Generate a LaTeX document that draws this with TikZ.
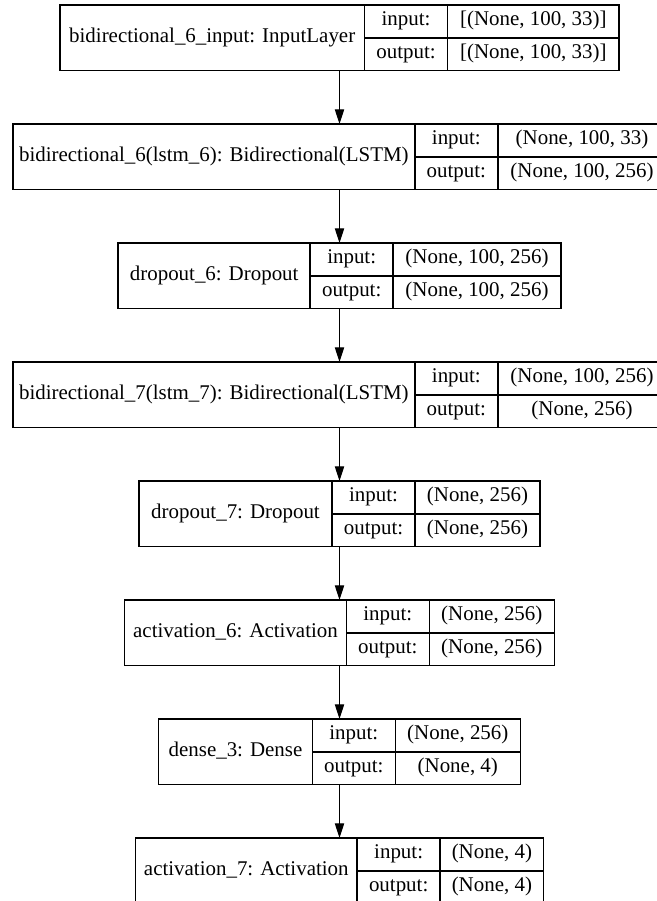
\documentclass[tikz,border=0pt]{standalone}
\usepackage{fontspec}
\setmainfont{Liberation Serif}
\usetikzlibrary{arrows.meta}

\tikzset{
  rec/.style={draw, line width=1.1pt, minimum height=49.3pt, inner sep=0pt, outer sep=0pt},
  labcell/.style={draw, line width=1.1pt, minimum height=49.3pt, inner sep=0pt, outer sep=0pt,
    text height=0.85em, text depth=0.2em, anchor=west},
  keycell/.style={draw, line width=1.1pt, minimum height=24.65pt, minimum width=62.25pt, inner sep=0pt,
    outer sep=0pt, text height=0.85em, text depth=0.2em, anchor=north west},
  valcell/.style={keycell},
  flow/.style={-{Triangle[length=11pt,width=7pt]}, line width=0.8pt}
}

\begin{document}
\begin{tikzpicture}[x=0.75pt,y=-0.75pt,font=\fontsize{15.7}{18}\selectfont]
\useasboundingbox (0,0) rectangle (657,901);
\clip (0,0) rectangle (657,901);
\foreach \n/\y/\lw/\vw/\lab/\vin/\vout in {
  1/37.8/228.5/128.7/{bidirectional\_6\_input: InputLayer}/{[(None, 100, 33)]}/{[(None, 100, 33)]},
  2/156.8/301.5/126.2/{bidirectional\_6(lstm\_6): Bidirectional(LSTM)}/{(None, 100, 33)}/{(None, 100, 256)},
  3/275.8/144/125.7/{dropout\_6: Dropout}/{(None, 100, 256)}/{(None, 100, 256)},
  4/394.8/301.5/126.2/{bidirectional\_7(lstm\_7): Bidirectional(LSTM)}/{(None, 100, 256)}/{(None, 256)},
  5/513.8/144.75/93.75/{dropout\_7: Dropout}/{(None, 256)}/{(None, 256)},
  6/632.8/166.2/93.75/{activation\_6: Activation}/{(None, 256)}/{(None, 256)},
  7/751.8/115.2/93.75/{dense\_3: Dense}/{(None, 256)}/{(None, 4)},
  8/870.8/166.3/77.55/{activation\_7: Activation}/{(None, 4)}/{(None, 4)}}{
  \node[rec, minimum width=\lw+62.25+\vw] (r\n) at (339.5,\y) {};
  \node[labcell, minimum width=\lw] (n\n) at (r\n.west) {\lab};
  \node[keycell] (i\n) at (n\n.north east) {input:};
  \node[keycell] (o\n) at (i\n.south west) {output:};
  \node[valcell, minimum width=\vw] (vi\n) at (i\n.north east) {\vin};
  \node[valcell, minimum width=\vw] (vo\n) at (o\n.north east) {\vout};
}
%\draw[help lines] (0,0) grid[step=50] (657,901);
\foreach \a/\b in {1/2,2/3,3/4,4/5,5/6,6/7,7/8}
  \draw[flow] (r\a) -- (r\b);
\end{tikzpicture}
\end{document}
